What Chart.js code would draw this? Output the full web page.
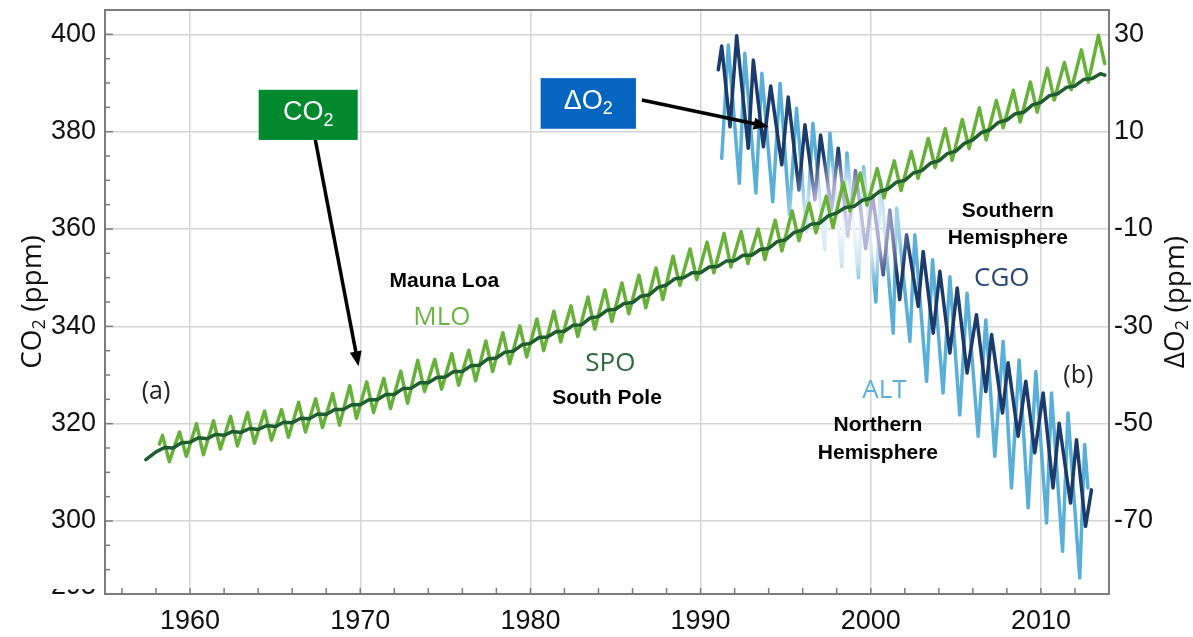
<!DOCTYPE html>
<html><head><meta charset="utf-8">
<script src="https://cdn.jsdelivr.net/npm/chart.js@4.4.0/dist/chart.umd.min.js"></script>
<style>html,body{margin:0;padding:0;background:#fff;}canvas{display:block;}</style>
</head><body>
<canvas id="c" width="1193" height="637"></canvas>
<script>
// ---------- DATA ----------
const xTickLabels = [1960, 1970, 1980, 1990, 2000, 2010];
const co2TickLabels = [300, 320, 340, 360, 380, 400];
const o2TickLabels = [-70, -50, -30, -10, 10, 30];

// Mauna Loa CO2 (ppm): seasonal maxima / minima
const mloYears = [1958.20,1958.38,1958.78,
 1959.38,1959.78,1960.38,1960.78,1961.38,1961.78,1962.38,1962.78,1963.38,1963.78,1964.38,1964.78,
 1965.38,1965.78,1966.38,1966.78,1967.38,1967.78,1968.38,1968.78,1969.38,1969.78,1970.38,1970.78,
 1971.38,1971.78,1972.38,1972.78,1973.38,1973.78,1974.38,1974.78,1975.38,1975.78,1976.38,1976.78,
 1977.38,1977.78,1978.38,1978.78,1979.38,1979.78,1980.38,1980.78,1981.38,1981.78,1982.38,1982.78,
 1983.38,1983.78,1984.38,1984.78,1985.38,1985.78,1986.38,1986.78,1987.38,1987.78,1988.38,1988.78,
 1989.38,1989.78,1990.38,1990.78,1991.38,1991.78,1992.38,1992.78,1993.38,1993.78,1994.38,1994.78,
 1995.38,1995.78,1996.38,1996.78,1997.38,1997.78,1998.38,1998.78,1999.38,1999.78,2000.38,2000.78,
 2001.38,2001.78,2002.38,2002.78,2003.38,2003.78,2004.38,2004.78,2005.38,2005.78,2006.38,2006.78,
 2007.38,2007.78,2008.38,2008.78,2009.38,2009.78,2010.38,2010.78,2011.38,2011.78,2012.38,2012.78,
 2013.38,2013.75];
const mloCO2 = [315.8,317.6,312.2,
 318.3,313.3,320.0,313.6,320.6,314.8,321.5,315.4,322.3,316.0,322.6,316.6,
 322.9,317.2,324.4,318.3,325.1,319.2,326.2,319.7,327.8,321.1,328.6,322.3,
 329.3,323.1,330.8,324.2,333.0,326.6,333.2,327.1,334.4,327.9,335.1,328.8,
 337.0,330.7,338.7,332.3,340.1,333.7,341.5,335.0,343.1,336.8,344.2,337.9,
 346.0,339.4,347.5,341.0,348.9,342.6,350.5,343.8,352.0,345.5,354.4,348.4,
 355.9,349.6,357.3,351.0,359.1,352.2,359.5,352.9,360.0,353.7,361.8,355.5,
 363.7,357.6,365.3,359.2,366.7,360.3,369.6,363.7,371.5,364.9,372.4,366.4,
 374.0,367.9,375.9,370.4,378.6,372.6,380.6,374.1,382.5,376.5,384.9,378.3,
 386.4,380.8,388.5,382.0,390.2,384.0,393.0,386.5,394.2,388.6,396.8,390.2,
 399.8,394.0];

// South Pole CO2 (ppm)
const spoYears = [1957.4,
 1958.0,1958.5,1959.0,1959.5,1960.0,1960.5,1961.0,1961.5,1962.0,1962.5,1963.0,1963.5,1964.0,1964.5,
 1965.0,1965.5,1966.0,1966.5,1967.0,1967.5,1968.0,1968.5,1969.0,1969.5,1970.0,1970.5,1971.0,1971.5,
 1972.0,1972.5,1973.0,1973.5,1974.0,1974.5,1975.0,1975.5,1976.0,1976.5,1977.0,1977.5,1978.0,1978.5,
 1979.0,1979.5,1980.0,1980.5,1981.0,1981.5,1982.0,1982.5,1983.0,1983.5,1984.0,1984.5,1985.0,1985.5,
 1986.0,1986.5,1987.0,1987.5,1988.0,1988.5,1989.0,1989.5,1990.0,1990.5,1991.0,1991.5,1992.0,1992.5,
 1993.0,1993.5,1994.0,1994.5,1995.0,1995.5,1996.0,1996.5,1997.0,1997.5,1998.0,1998.5,1999.0,1999.5,
 2000.0,2000.5,2001.0,2001.5,2002.0,2002.5,2003.0,2003.5,2004.0,2004.5,2005.0,2005.5,2006.0,2006.5,
 2007.0,2007.5,2008.0,2008.5,2009.0,2009.5,2010.0,2010.5,2011.0,2011.5,2012.0,2012.5,2013.0,2013.5,
 2013.75];
const spoCO2 = [312.6,
 314.2,315.1,315.0,316.1,316.2,317.1,316.9,317.8,317.6,318.4,318.2,319.0,318.8,319.6,
 319.4,320.3,320.2,321.1,321.0,322.0,321.9,322.9,322.9,323.9,323.9,324.9,324.9,326.0,
 326.0,327.2,327.3,328.4,328.4,329.5,329.6,330.7,330.7,331.9,332.0,333.3,333.5,334.7,
 334.9,336.2,336.5,337.7,337.8,338.9,339.0,340.2,340.3,341.7,342.0,343.3,343.5,344.7,
 344.9,346.2,346.5,348.0,348.5,349.8,350.0,351.0,351.0,352.2,352.3,353.4,353.5,354.6,
 354.6,355.8,356.0,357.4,357.8,359.3,359.8,361.0,361.2,362.7,363.3,364.4,364.6,365.9,
 366.3,367.7,368.2,369.6,370.0,371.5,372.0,373.5,374.0,375.5,376.0,377.6,378.3,379.8,
 380.4,381.9,382.4,383.7,384.0,385.5,386.0,387.4,387.8,389.1,389.4,390.7,390.9,391.9,
 391.6];

// Alert (ALT) delta O2 (ppm equivalent)
const altYears = [1991.24,1991.63,1992.28,1992.6,1993.25,1993.6,1994.24,1994.67,1995.22,1995.64,
 1996.22,1996.6,1997.3,1997.6,1998.3,1998.6,1999.28,1999.58,2000.3,2000.58,
 2001.32,2001.52,2002.3,2002.59,2003.28,2003.63,2004.25,2004.65,2005.23,2005.66,
 2006.31,2006.76,2007.29,2007.78,2008.27,2008.72,2009.25,2009.7,2010.33,2010.62,
 2011.27,2011.59,2012.28,2012.57,2012.76];
const altO2 = [4.5,27.8,-0.6,26.1,-2.6,22.0,-4.4,19.9,-7.0,14.8,
 -10.5,11.7,-14.3,9.7,-17.7,5.6,-20.0,2.8,-25.0,0.0,
 -31.4,-5.7,-33.1,-11.2,-41.3,-16.3,-43.7,-19.8,-48.2,-23.2,
 -52.6,-28.7,-56.7,-33.1,-63.2,-36.9,-67.3,-39.3,-70.4,-43.7,
 -76.2,-47.8,-81.7,-54.3,-63.2];

// Cape Grim (CGO) delta O2 (ppm equivalent)
const cgoYears = [1991.04,1991.24,1991.73,1992.12,1992.8,1993.1,1993.69,1994.12,1994.77,1995.15,
 1995.78,1996.13,1996.72,1997.05,1997.7,1998.09,1998.65,1999.1,1999.7,2000.1,
 2000.73,2001.12,2001.7,2002.1,2002.79,2003.08,2003.67,2004.06,2004.65,2005.08,
 2005.66,2006.21,2006.76,2007.1,2007.74,2008.07,2008.66,2009.11,2009.64,2010.13,
 2010.71,2011.07,2011.74,2012.09,2012.62,2012.97];
const cgoO2 = [22.7,27.6,11.0,29.7,6.6,24.7,6.9,19.4,3.2,17.1,
 -2.0,11.4,-4.0,9.3,-6.0,6.6,-11.5,2.0,-14.0,-3.0,
 -19.4,-6.1,-24.5,-11.2,-25.9,-14.6,-31.4,-18.7,-35.5,-22.1,
 -39.6,-27.6,-43.4,-31.7,-47.8,-37.5,-52.6,-41.3,-56.0,-43.7,
 -63.2,-49.9,-66.3,-53.3,-71.1,-63.6];

// ---------- STYLE ----------
const TICKF = "'Liberation Sans',Arial,sans-serif";
const SANS = "'Liberation Sans',Arial,sans-serif";
const OPEN = "'Open Sans',sans-serif";
const GRID = '#d6d6d6';
const AXIS = '#7c7c7c';
const C_MLO = '#67b13a', C_SPO = '#1f5c2f', C_ALT = '#5aafd8', C_CGO = '#1c3b6b';

// white glow where the two panels overlap (centred near 1998.5, dO2 about -9)
function glow(base, faded, mid){
  return ctx => {
    const chart = ctx.chart;
    if (!chart.chartArea || !chart.scales.yR) return base;
    const cx = chart.scales.x.getPixelForValue(1998.5);
    const cy = chart.scales.yR.getPixelForValue(-9);
    const g = chart.ctx.createRadialGradient(cx, cy, 0, cx, cy, 72);
    g.addColorStop(0, faded);
    g.addColorStop(0.55, mid);
    g.addColorStop(1, base);
    return g;
  };
}
const pts = (xs, ys) => xs.map((x,i)=>({x, y: ys[i]}));

function runs(c, parts, x, y, align){
  let w = 0;
  parts.forEach(p=>{c.font=p.f; p.w=c.measureText(p.t).width; w+=p.w;});
  let cx = align==='center' ? x-w/2 : x;
  c.textAlign='left'; c.textBaseline='middle';
  parts.forEach(p=>{c.font=p.f; c.fillText(p.t, cx, y+(p.dy||0)); cx+=p.w;});
}

const labels = [
  {t:'Mauna Loa', yr:1974.94, v:349.2, f:'bold 21px '+SANS, c:'#000'},
  {t:'MLO', yr:1974.8, v:341.8, f:'26px '+OPEN, c:'#6cb440'},
  {t:'SPO', yr:1984.7, v:332.3, f:'26px '+OPEN, c:'#2c6a3a'},
  {t:'South Pole', yr:1984.5, v:325.3, f:'bold 21px '+SANS, c:'#000'},
  {t:'(a)', yr:1958.0, v:326.6, f:'25px '+OPEN, c:'#222'},
  {t:'(b)', yr:2012.2, v:329.8, f:'25px '+OPEN, c:'#222'},
  {t:'Southern', yr:2008.05, v:363.7, f:'bold 21px '+SANS, c:'#000'},
  {t:'Hemisphere', yr:2008.05, v:358.2, f:'bold 21px '+SANS, c:'#000'},
  {t:'CGO', yr:2007.7, v:349.8, f:'26px '+OPEN, c:'#2a4776'},
  {t:'ALT', yr:2000.8, v:326.8, f:'26px '+OPEN, c:'#5cb0db'},
  {t:'Northern', yr:2000.42, v:319.6, f:'bold 21px '+SANS, c:'#000'},
  {t:'Hemisphere', yr:2000.42, v:314.0, f:'bold 21px '+SANS, c:'#000'}
];

function arrow(c, x0, y0, x1, y1){
  const ang = Math.atan2(y1-y0, x1-x0), L = 15, W = 6;
  c.strokeStyle='#000'; c.fillStyle='#000'; c.lineWidth=3.5; c.lineCap='butt';
  c.beginPath(); c.moveTo(x0,y0); c.lineTo(x1-Math.cos(ang)*L*0.8, y1-Math.sin(ang)*L*0.8); c.stroke();
  c.beginPath();
  c.moveTo(x1,y1);
  c.lineTo(x1-Math.cos(ang)*L - Math.sin(ang)*W, y1-Math.sin(ang)*L + Math.cos(ang)*W);
  c.lineTo(x1-Math.cos(ang)*L + Math.sin(ang)*W, y1-Math.sin(ang)*L - Math.cos(ang)*W);
  c.closePath(); c.fill();
}

const decor = {
  id: 'decor',
  beforeDraw(chart){
    const c = chart.ctx; c.save(); c.fillStyle='#fff'; c.fillRect(0,0,chart.width,chart.height); c.restore();
  },
  afterDraw(chart){
    const c = chart.ctx, a = chart.chartArea, sx = chart.scales.x, sy = chart.scales.y;
    const X = v => sx.getPixelForValue(v), Y = v => sy.getPixelForValue(v);
    c.save();
    // top frame
    c.strokeStyle = AXIS; c.lineWidth = 2;
    c.beginPath(); c.moveTo(a.left, a.top); c.lineTo(a.right, a.top); c.stroke();
    // inner minor ticks
    c.lineWidth = 1.5;
    for (let yr = 1956; yr <= 2014; yr += 2){ const px = X(yr); c.beginPath(); c.moveTo(px, a.bottom); c.lineTo(px, a.bottom-6); c.stroke(); }
    for (let v = 290; v <= 405; v += 5){ const py = Y(v); c.beginPath(); c.moveTo(a.left, py); c.lineTo(a.left+(v%20===0?8:5), py); c.stroke(); }
    // partially hidden bottom tick label
    c.save(); c.beginPath(); c.rect(0, a.bottom-5, a.left-2, 30); c.clip();
    c.fillStyle = '#111'; c.font = '27px '+TICKF; c.textAlign='right'; c.textBaseline='middle';
    c.fillText('295', a.left-9, a.bottom-7); c.restore();
    // axis titles
    c.fillStyle = '#111';
    c.save(); c.translate(33, (a.top+a.bottom)/2); c.rotate(-Math.PI/2);
    runs(c, [{t:'CO', f:'28px '+OPEN},{t:'2', f:'18px '+OPEN, dy:7},{t:' (ppm)', f:'28px '+OPEN}], 0, 0, 'center');
    c.restore();
    c.save(); c.translate(1176, (a.top+a.bottom)/2); c.rotate(-Math.PI/2);
    runs(c, [{t:'ΔO', f:'28px '+OPEN},{t:'2', f:'18px '+OPEN, dy:7},{t:' (ppm)', f:'28px '+OPEN}], 0, 0, 'center');
    c.restore();
    // text labels
    labels.forEach(l=>{ c.fillStyle=l.c; c.font=l.f; c.textAlign='center'; c.textBaseline='middle'; c.fillText(l.t, X(l.yr), Y(l.v)); });
    // arrows
    arrow(c, X(1967.36), Y(378.3), X(1969.9), Y(331.8));
    arrow(c, X(1986.55), Y(386.5), X(1994.0), Y(381.0));
    // boxes
    const box = (yr0, yr1, v0, v1, col, first) => {
      const x0 = X(yr0), x1 = X(yr1), y0 = Y(v0), y1 = Y(v1);
      c.fillStyle = col; c.fillRect(x0, y0, x1-x0, y1-y0);
      c.fillStyle = '#fff';
      runs(c, [{t:first, f:'27px '+SANS},{t:'2', f:'18px '+SANS, dy:8}], (x0+x1)/2, (y0+y1)/2 - 2, 'center');
    };
    box(1964.03, 1969.85, 388.6, 378.3, '#03892d', 'CO');
    box(1980.6, 1986.2, 391.0, 380.6, '#0565c0', 'ΔO');
    c.restore();
  }
};

const noPad = s => { s.paddingTop = 0; s.paddingBottom = 0; s.paddingLeft = 0; s.paddingRight = 0; };
const tickFont = {family: TICKF, size: 27};
new Chart(document.getElementById('c'), {
  type: 'line',
  data: {
    datasets: [
      {label:'SPO', data: pts(spoYears, spoCO2), yAxisID:'y', borderColor:C_SPO, borderWidth:3.5},
      {label:'MLO', data: pts(mloYears, mloCO2), yAxisID:'y', borderColor:C_MLO, borderWidth:3.5},
      {label:'CGO', data: pts(cgoYears, cgoO2), yAxisID:'yR', borderWidth:3.5,
        borderColor: glow(C_CGO, '#d4d2ea', '#a9a7cc')},
      {label:'ALT', data: pts(altYears, altO2), yAxisID:'yR', borderWidth:3.5,
        borderColor: glow(C_ALT, '#f4fafd', '#cfe7f4')}
    ]
  },
  options: {
    responsive: false, animation: false, devicePixelRatio: 1,
    layout: {padding: {top: 10, left: 0, right: 0, bottom: 0}},
    plugins: {legend: {display: false}, tooltip: {enabled: false}},
    elements: {point: {radius: 0}, line: {tension: 0, borderJoinStyle: 'round', borderCapStyle: 'round'}},
    scales: {
      x: {type: 'linear', min: 1955, max: 2014,
        afterFit(s){ s.height = 43; noPad(s); },
        afterBuildTicks(s){ s.ticks = xTickLabels.map(v => ({value: v})); },
        ticks: {font: tickFont, color: '#111', padding: 11, maxRotation: 0, autoSkip: false, callback: v => String(v)},
        grid: {color: GRID, lineWidth: 1.5, drawTicks: false},
        border: {color: AXIS, width: 2}},
      y: {position: 'left', min: 285, max: 405,
        afterFit(s){ s.width = 105; noPad(s); },
        afterBuildTicks(s){ s.ticks = co2TickLabels.map(v => ({value: v})); },
        ticks: {font: tickFont, color: '#111', padding: 9, callback: v => String(v)},
        grid: {color: GRID, lineWidth: 1.5, drawTicks: false},
        border: {color: AXIS, width: 2}},
      yR: {position: 'right', min: -85, max: 35,
        afterFit(s){ s.width = 84; noPad(s); },
        afterBuildTicks(s){ s.ticks = o2TickLabels.map(v => ({value: v})); },
        ticks: {font: tickFont, color: '#111', padding: 5, callback: v => String(v)},
        grid: {display: false, drawTicks: false},
        border: {color: AXIS, width: 2}}
    }
  },
  plugins: [decor]
});
</script>
</body></html>
